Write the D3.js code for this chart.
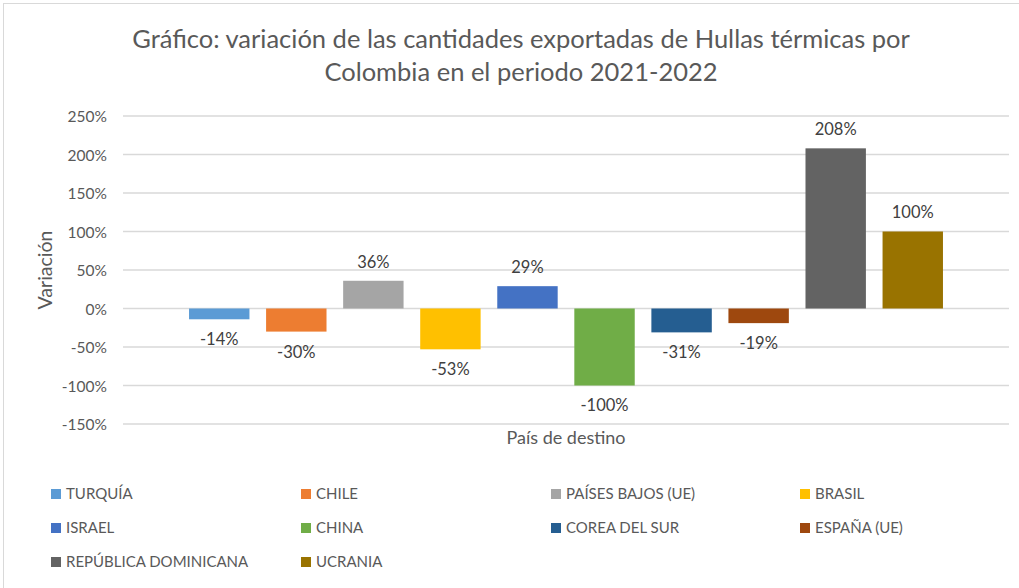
<!DOCTYPE html>
<html lang="es">
<head>
<meta charset="utf-8">
<style>
  body { margin: 0; background: #fff; }
  svg text { font-family: Lato, "Open Sans", sans-serif; }
  .grid line { stroke: #d9d9d9; stroke-width: 1.3px; }
  .tick text { fill: #595959; }
</style>
</head>
<body>
<svg width="1019" height="588"></svg>
<script src="https://cdn.jsdelivr.net/npm/d3@7"></script>
<script>
var paises = ["TURQUÍA", "CHILE", "PAÍSES BAJOS (UE)", "BRASIL", "ISRAEL", "CHINA",
              "COREA DEL SUR", "ESPAÑA (UE)", "REPÚBLICA DOMINICANA", "UCRANIA"];
var variacion = [-14, -30, 36, -53, 29, -100, -31, -19, 208, 100];
var colores = ["#5b9bd5", "#ed7d31", "#a5a5a5", "#ffc000", "#4472c4", "#70ad47",
               "#255e91", "#9e480e", "#636363", "#997300"];
var ticksY = [-150, -100, -50, 0, 50, 100, 150, 200, 250];

var svg = d3.select("svg");

// marco del gráfico
svg.append("rect")
    .attr("x", 3.5).attr("y", 3.5)
    .attr("width", 1040).attr("height", 620)
    .attr("fill", "none")
    .attr("stroke", "#d9d9d9");

var plot = { left: 123, right: 1009, top: 116, bottom: 424 };

var y = d3.scaleLinear()
    .domain([-150, 250])
    .range([plot.bottom, plot.top]);

var x = d3.scaleBand()
    .domain(paises)
    .range([plot.left, plot.right])
    .paddingInner(0.216)
    .paddingOuter(0.857);

// líneas de cuadrícula
svg.append("g")
    .attr("class", "grid")
  .selectAll("line")
  .data(ticksY)
  .enter().append("line")
    .attr("x1", plot.left)
    .attr("x2", plot.right)
    .attr("y1", function(d) { return y(d); })
    .attr("y2", function(d) { return y(d); });

// eje y
var ejeY = svg.append("g")
    .attr("transform", "translate(" + (plot.left - 16) + ",0)")
    .call(d3.axisLeft(y).tickValues(ticksY).tickSize(0).tickPadding(0)
        .tickFormat(function(d) { return d + "%"; }));
ejeY.select(".domain").remove();
ejeY.selectAll("text").attr("font-size", 15.5).attr("dy", "0.36em");

// barras
svg.append("g")
  .selectAll("rect")
  .data(paises)
  .enter().append("rect")
    .attr("x", function(d) { return x(d); })
    .attr("width", x.bandwidth())
    .attr("y", function(d, i) { return y(Math.max(0, variacion[i])); })
    .attr("height", function(d, i) { return Math.abs(y(variacion[i]) - y(0)); })
    .attr("fill", function(d, i) { return colores[i]; });

// etiquetas de datos
svg.append("g")
  .selectAll("text")
  .data(paises)
  .enter().append("text")
    .attr("x", function(d) { return x(d) + x.bandwidth() / 2; })
    .attr("y", function(d, i) {
      var v = variacion[i];
      return v >= 0 ? y(v) - 19 : y(v) + 20;
    })
    .attr("dy", "0.36em")
    .attr("text-anchor", "middle")
    .attr("font-size", 16.5)
    .attr("fill", "#404040")
    .text(function(d, i) { return variacion[i] + "%"; });

// títulos
var titulo = svg.append("text")
    .attr("text-anchor", "middle")
    .attr("font-size", 25.5)
    .attr("fill", "#595959");
titulo.append("tspan").attr("x", 521).attr("y", 48)
    .text("Gráfico: variación de las cantidades exportadas de Hullas térmicas por");
titulo.append("tspan").attr("x", 521).attr("y", 81)
    .text("Colombia en el periodo 2021-2022");

svg.append("text")
    .attr("transform", "translate(52,270) rotate(-90)")
    .attr("text-anchor", "middle")
    .attr("font-size", 19.5)
    .attr("fill", "#595959")
    .text("Variación");

svg.append("text")
    .attr("x", (plot.left + plot.right) / 2)
    .attr("y", 444)
    .attr("text-anchor", "middle")
    .attr("font-size", 18)
    .attr("fill", "#595959")
    .text("País de destino");

// leyenda
var colX = [51, 301, 551, 800];
var filaY = [494, 528, 562];
var leyenda = svg.append("g")
  .selectAll("g")
  .data(paises)
  .enter().append("g")
    .attr("transform", function(d, i) {
      return "translate(" + colX[i % 4] + "," + filaY[Math.floor(i / 4)] + ")";
    });
leyenda.append("rect")
    .attr("x", 0).attr("y", -5)
    .attr("width", 10).attr("height", 10)
    .attr("fill", function(d, i) { return colores[i]; });
leyenda.append("text")
    .attr("x", 15)
    .attr("dy", "0.36em")
    .attr("font-size", 15)
    .attr("fill", "#595959")
    .text(function(d) { return d; });
</script>
</body>
</html>
